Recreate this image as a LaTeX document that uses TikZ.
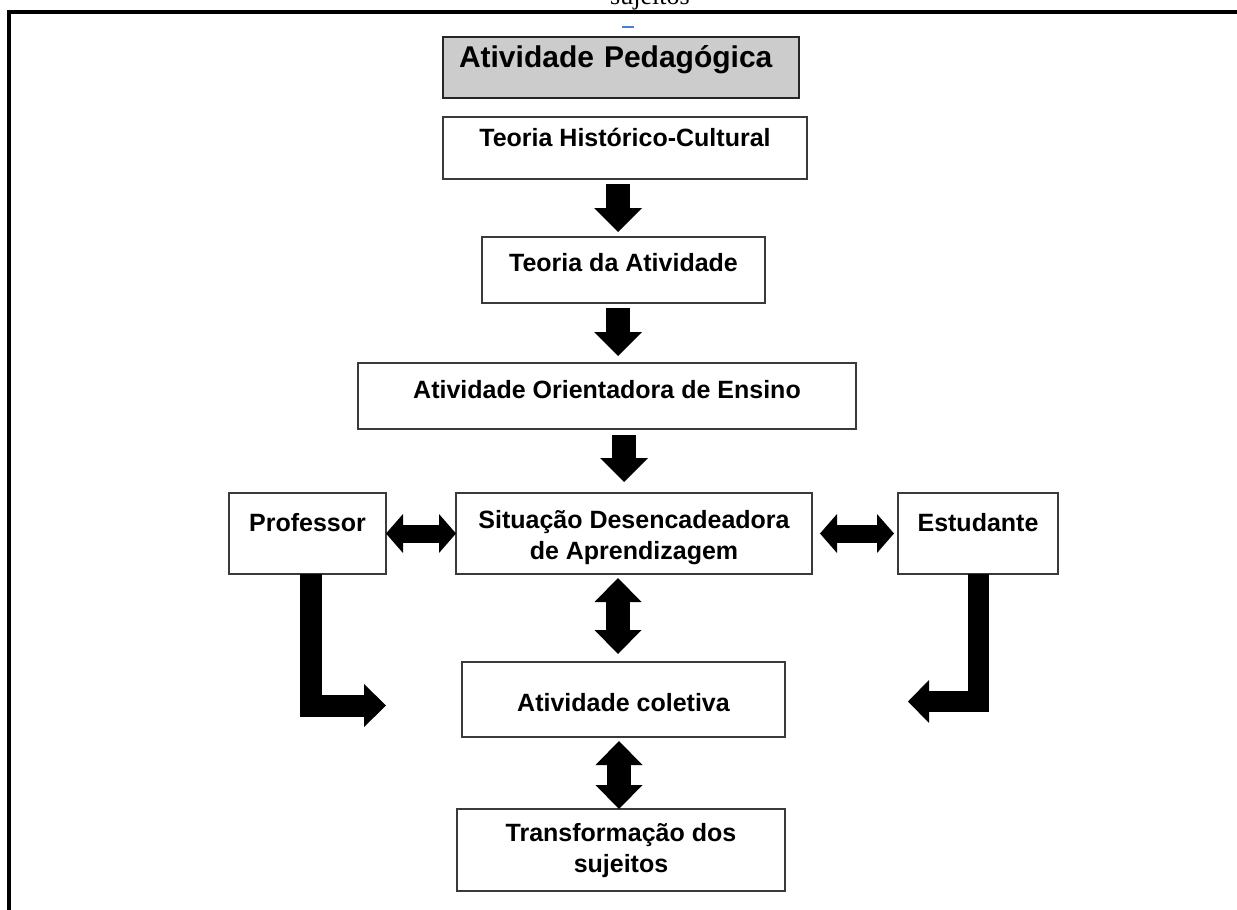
\documentclass[tikz,border=0pt]{standalone}
\usepackage{fontspec}
\setmainfont{Liberation Sans}
\newfontfamily\captionserif{Liberation Serif}
\usetikzlibrary{arrows.meta,calc}
\definecolor{boxline}{HTML}{3A3A3A}
\definecolor{titlefill}{HTML}{CCCCCC}
\definecolor{dashblue}{HTML}{4A7FD0}
\begin{document}
\begin{tikzpicture}[x=1pt,y=-1pt,
  box/.style={draw=boxline, line width=1.4pt, fill=white, inner sep=0pt,
    outer sep=0pt, anchor=north west, align=center,
    font=\bfseries\fontsize{25}{31}\selectfont},
  vblock/.style={line width=24pt,
    -{Triangle[length=24pt,width=48pt,line width=0pt]}},
  vdouble/.style={line width=24pt,
    {Triangle[length=24pt,width=47pt,line width=0pt]}-{Triangle[length=24pt,width=47pt,line width=0pt]}},
  hdouble/.style={line width=18pt,
    {Triangle[length=17pt,width=39pt,line width=0pt]}-{Triangle[length=17pt,width=39pt,line width=0pt]}},
  lblock/.style={line width=#1, line join=miter,
    -{Triangle[length=#1,width=43pt,line width=0pt]}},
]
\useasboundingbox (0,0) rectangle (1237,910);
\clip (0,0) rectangle (1237,910);

% frame lines and the caption cut at the top edge
\draw[line width=4pt, line join=miter] (9,910) -- (9,12) -- (1237,12);
\node[font=\captionserif\fontsize{26}{30}\selectfont, anchor=base west, inner sep=0pt] (cap) at (610,5) {sujeitos};
\draw[dashblue, line width=1.2pt] (622,27) -- (634,27);

% boxes (two-line boxes: text height is measured to the last baseline)
\node[box, fill=titlefill, draw=black!85, line width=2pt,
  font=\bfseries\fontsize{30}{36}\selectfont, align=left,
  text width=324pt, inner xsep=16pt, minimum height=61pt,
  text height=30pt, text depth=31pt] (ap) at (443,37) {Atividade Pedagógica};
\node[box, minimum width=364pt, minimum height=62pt, text height=29pt, text depth=33pt]
  (thc) at (443,117) {Teoria Histórico-Cultural};
\node[box, minimum width=283pt, minimum height=66pt, text height=34pt, text depth=32pt]
  (ta) at (482,237) {Teoria da Atividade};
\node[box, minimum width=498pt, minimum height=66pt, text height=35pt, text depth=31pt]
  (aoe) at (358,363) {Atividade Orientadora de Ensino};
\node[box, minimum width=356pt, minimum height=81pt, text height=66pt, text depth=15pt]
  (sda) at (456,493) {Situação Desencadeadora\\de Aprendizagem};
\node[box, minimum width=157pt, minimum height=81pt, text height=38pt, text depth=43pt]
  (prof) at (229,493) {Professor};
\node[box, minimum width=160pt, minimum height=81pt, text height=38pt, text depth=43pt]
  (est) at (898,493) {Estudante};
\node[box, minimum width=323pt, minimum height=75pt, text height=49pt, text depth=26pt]
  (ac) at (462,662) {Atividade coletiva};
\node[box, minimum width=328pt, minimum height=82pt, text height=63pt, text depth=19pt]
  (td) at (457,809) {Transformação dos\\sujeitos};

% block arrows
\draw[vblock] ($(thc.south)+(-7,5)$) -- ($(ta.north)+(-5.5,-5)$);
\draw[vblock] ($(ta.south)+(-5.5,5)$) -- ($(aoe.north)+(11,-7)$);
\draw[vblock] ($(aoe.south)+(17,6)$) -- ($(sda.north)+(-10,-11)$);
\draw[vdouble] ($(sda.south)+(-16,4)$) -- ($(ac.north)+(-5.5,-8)$);
\draw[vdouble] ($(ac.south)+(-4.5,4)$) -- ($(td.north)+(-2,0)$);
\draw[hdouble] (prof.east) -- (sda.west);
\draw[hdouble] ($(sda.east)+(8,0)$) -- ($(est.west)+(-4,0)$);

% bent arrows from the side boxes
\coordinate (proftip) at (386,705.5);
\coordinate (esttip) at (908,701.5);
\draw[lblock=22pt] ($(prof.south)+(3.5,0)$) |- (proftip);
\draw[lblock=21pt] ($(est.south)+(0.5,0)$) |- (esttip);
\end{tikzpicture}
\end{document}
